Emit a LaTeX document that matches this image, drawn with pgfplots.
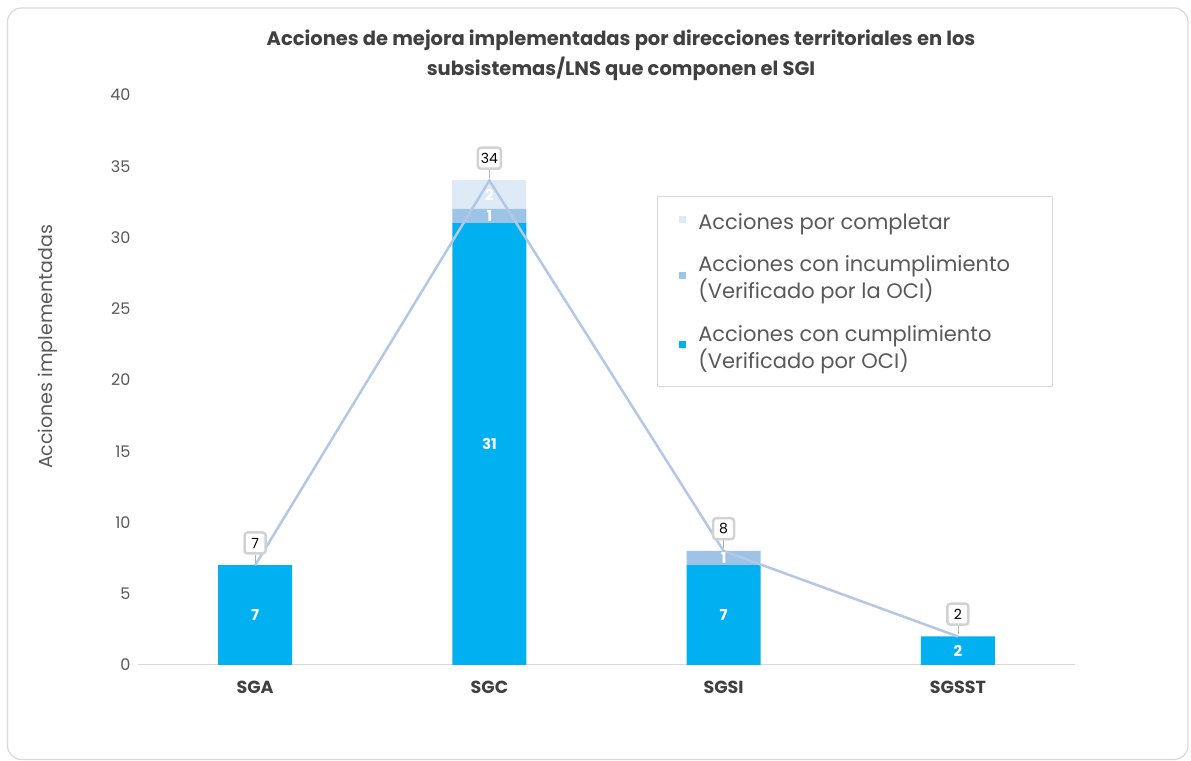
\documentclass[border=0pt]{standalone}
\usepackage{fontspec}
\setmainfont{Poppins}
\usepackage{pgfplots}
\pgfplotsset{compat=1.18}
\definecolor{cump}{HTML}{00B0F0}
\definecolor{incump}{HTML}{9DC3E6}
\definecolor{porcomp}{HTML}{DEEBF7}
\definecolor{linec}{HTML}{B4C7E7}
\definecolor{txt}{HTML}{595959}
\definecolor{ttl}{HTML}{404040}
\definecolor{brd}{HTML}{D9D9D9}
\pgfplotsset{
  base/.style={at={(138pt,95pt)}, anchor=south west,
    width=937pt, height=570pt, scale only axis,
    xmin=-0.5, xmax=3.5, ymin=0, ymax=40,
    /pgf/number format/assume math mode=true}}
\begin{document}
\begin{tikzpicture}[x=1pt,y=1pt]
\path (0,0) rectangle (1191,760);
\draw[brd, line width=1.2pt, rounded corners=14pt] (7.5,0.5) rectangle (1188,752);
\node[font=\bfseries\fontsize{19.5}{30}\selectfont, text=ttl, align=center] at (621,705) {Acciones de mejora implementadas por direcciones territoriales en los\\subsistemas/LNS que componen el SGI};
\begin{axis}[base,
  ybar stacked, bar width=74pt,
  xtick={0,1,2,3}, xticklabels={SGA,SGC,SGSI,SGSST},
  x tick label style={font=\bfseries\fontsize{17.5}{20}\selectfont, text=ttl, yshift=-13pt},
  ytick={0,5,...,40},
  y tick label style={font=\fontsize{16}{18}\selectfont, text=txt, xshift=-4pt},
  axis y line*=left, axis x line*=bottom,
  y axis line style={draw=none},
  x axis line style={brd, line width=1pt, -},
  major tick length=0pt,
  ylabel={Acciones implementadas},
  ylabel style={font=\fontsize{19}{20}\selectfont, text=txt, at={(axis description cs:-0.096,0.558)}, anchor=center},
  legend style={at={(0.554,0.489)}, anchor=south west, draw=brd, fill=white,
    font=\fontsize{21}{27}\selectfont, text=txt, inner xsep=22pt, inner ysep=14.5pt,
    row sep=21pt, cells={align=left}},
  legend cell align=left,
  reverse legend,
]
\addplot+[fill=cump, draw=none, legend image code/.code={\fill[cump] (0pt,-1pt) rectangle (7pt,6pt); \path (17pt,0pt);}] coordinates {(0,7) (1,31) (2,7) (3,2)};
\addlegendentry{Acciones con cumplimiento\\(Verificado por OCI)}
\addplot+[fill=incump, draw=none, legend image code/.code={\fill[incump] (0pt,-1pt) rectangle (7pt,6pt); \path (17pt,0pt);}] coordinates {(0,0) (1,1) (2,1) (3,0)};
\addlegendentry{Acciones con incumplimiento\hspace*{18pt}\\(Verificado por la OCI)}
\addplot+[fill=porcomp, draw=none, legend image code/.code={\fill[porcomp] (0pt,-1pt) rectangle (7pt,6pt); \path (17pt,0pt);}] coordinates {(0,0) (1,2) (2,0) (3,0)};
\addlegendentry{Acciones por completar}
\end{axis}
\begin{axis}[base, axis lines=none, ticks=none]
\addplot[linec, line width=2.5pt, mark=none,
  nodes near coords={},
  every node near coord/.style={inner sep=0pt, minimum size=0pt,
    pin={[pin distance=8pt, pin edge={gray!60, line width=0.6pt}, draw=gray!35, rounded corners=3pt, fill=white, text=black, font=\fontsize{14}{16}\selectfont, inner sep=3pt, minimum width=21pt, minimum height=21pt]90:\pgfmathprintnumber{\pgfplotspointmeta}}}]
  coordinates {(0,7) (1,34) (2,8) (3,2)};
\end{axis}
\begin{axis}[base, axis lines=none, ticks=none]
\addplot[draw=none, mark=none, point meta=explicit symbolic,
  nodes near coords,
  every node near coord/.style={anchor=center, font=\bfseries\fontsize{15}{16}\selectfont, text=white}]
  coordinates {(0,3.5)[7] (1,15.5)[31] (1,31.5)[1] (1,33)[2] (2,3.5)[7] (2,7.5)[1] (3,1)[2]};
\end{axis}
\end{tikzpicture}
\end{document}
